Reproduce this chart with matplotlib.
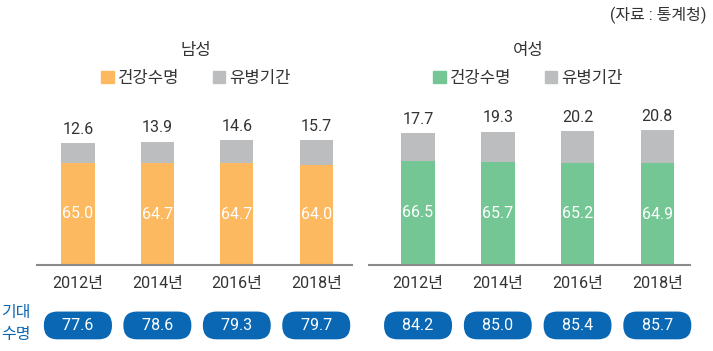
import matplotlib
matplotlib.use('Agg')
from matplotlib import pyplot as plt
from matplotlib.patches import Patch

plt.rcParams['font.family'] = ['Roboto', 'Noto Sans CJK KR', 'DejaVu Sans']

years = ['2012년', '2014년', '2016년', '2018년']
male_healthy = [65.0, 64.7, 64.7, 64.0]
male_ill = [12.6, 13.9, 14.6, 15.7]
male_life = [77.6, 78.6, 79.3, 79.7]
female_healthy = [66.5, 65.7, 65.2, 64.9]
female_ill = [17.7, 19.3, 20.2, 20.8]
female_life = [84.2, 85.0, 85.4, 85.7]

ORANGE = '#FCB960'
GREEN = '#74C795'
GRAY = '#BCBDBF'
BLUE = '#0A67B4'
TEXT = '#333333'

W, H = 713, 351
fig = plt.figure(figsize=(W / 100, H / 100), dpi=100)

PX_PER_UNIT = 1.57
YMAX = 110


def panel(x0, x1, xlim, healthy, ill, life, color, title, title_x):
    ax = fig.add_axes([x0 / W, 86 / H, (x1 - x0) / W, YMAX * PX_PER_UNIT / H])
    xs = range(len(years))
    ax.bar(xs, healthy, width=0.42, color=color, zorder=2)
    ax.bar(xs, ill, bottom=healthy, width=0.42, color=GRAY, zorder=2)
    for x, h, g, l, yr in zip(xs, healthy, ill, life, years):
        ax.text(x, h / 2, f'{h:.1f}', color='white', ha='center', va='center', fontsize=11.5)
        ax.text(x, h + g + 4, f'{g:.1f}', color=TEXT, ha='center', va='bottom', fontsize=11.5)
        ax.text(x, -11.5, yr, color=TEXT, ha='center', va='center', fontsize=11.5, clip_on=False)
        ax.text(x, -38.5, f'   {l:.1f}   ', color='white', ha='center', va='center', fontsize=11.5,
                clip_on=False,
                bbox=dict(boxstyle='round,pad=0.4,rounding_size=0.85', fc=BLUE, ec='none'))
    ax.set_xlim(*xlim)
    ax.set_ylim(0, YMAX)
    for s in ['top', 'right', 'left']:
        ax.spines[s].set_visible(False)
    ax.spines['bottom'].set_color('#8A8A8A')
    ax.spines['bottom'].set_linewidth(1.5)
    ax.set_xticks([])
    ax.set_yticks([])
    ax.patch.set_alpha(0)
    fig.text(title_x / W, 1 - 50 / H, title, ha='center', va='center', fontsize=12, color=TEXT)
    handles = [Patch(color=color, label='건강수명'), Patch(color=GRAY, label='유병기간')]
    fig.legend(handles=handles, loc='center', bbox_to_anchor=(title_x / W, 1 - 78 / H), ncol=2,
               frameon=False, fontsize=12, handlelength=0.75, handleheight=0.75,
               handletextpad=0.25, columnspacing=2.0, labelcolor=TEXT)
    return ax


panel(37, 352, (-0.515, 3.45), male_healthy, male_ill, male_life, ORANGE, '남성', 196)
panel(369, 690, (-0.615, 3.41), female_healthy, female_ill, female_life, GREEN, '여성', 528)

fig.text(706 / W, 1 - 15 / H, '(자료 : 통계청)', ha='right', va='center', fontsize=11.5, color=TEXT)
fig.text(16 / W, 1 - 312 / H, '기대', ha='center', va='center', fontsize=11.5, color=BLUE)
fig.text(16 / W, 1 - 335 / H, '수명', ha='center', va='center', fontsize=11.5, color=BLUE)

fig.savefig('out.png', dpi=100)
